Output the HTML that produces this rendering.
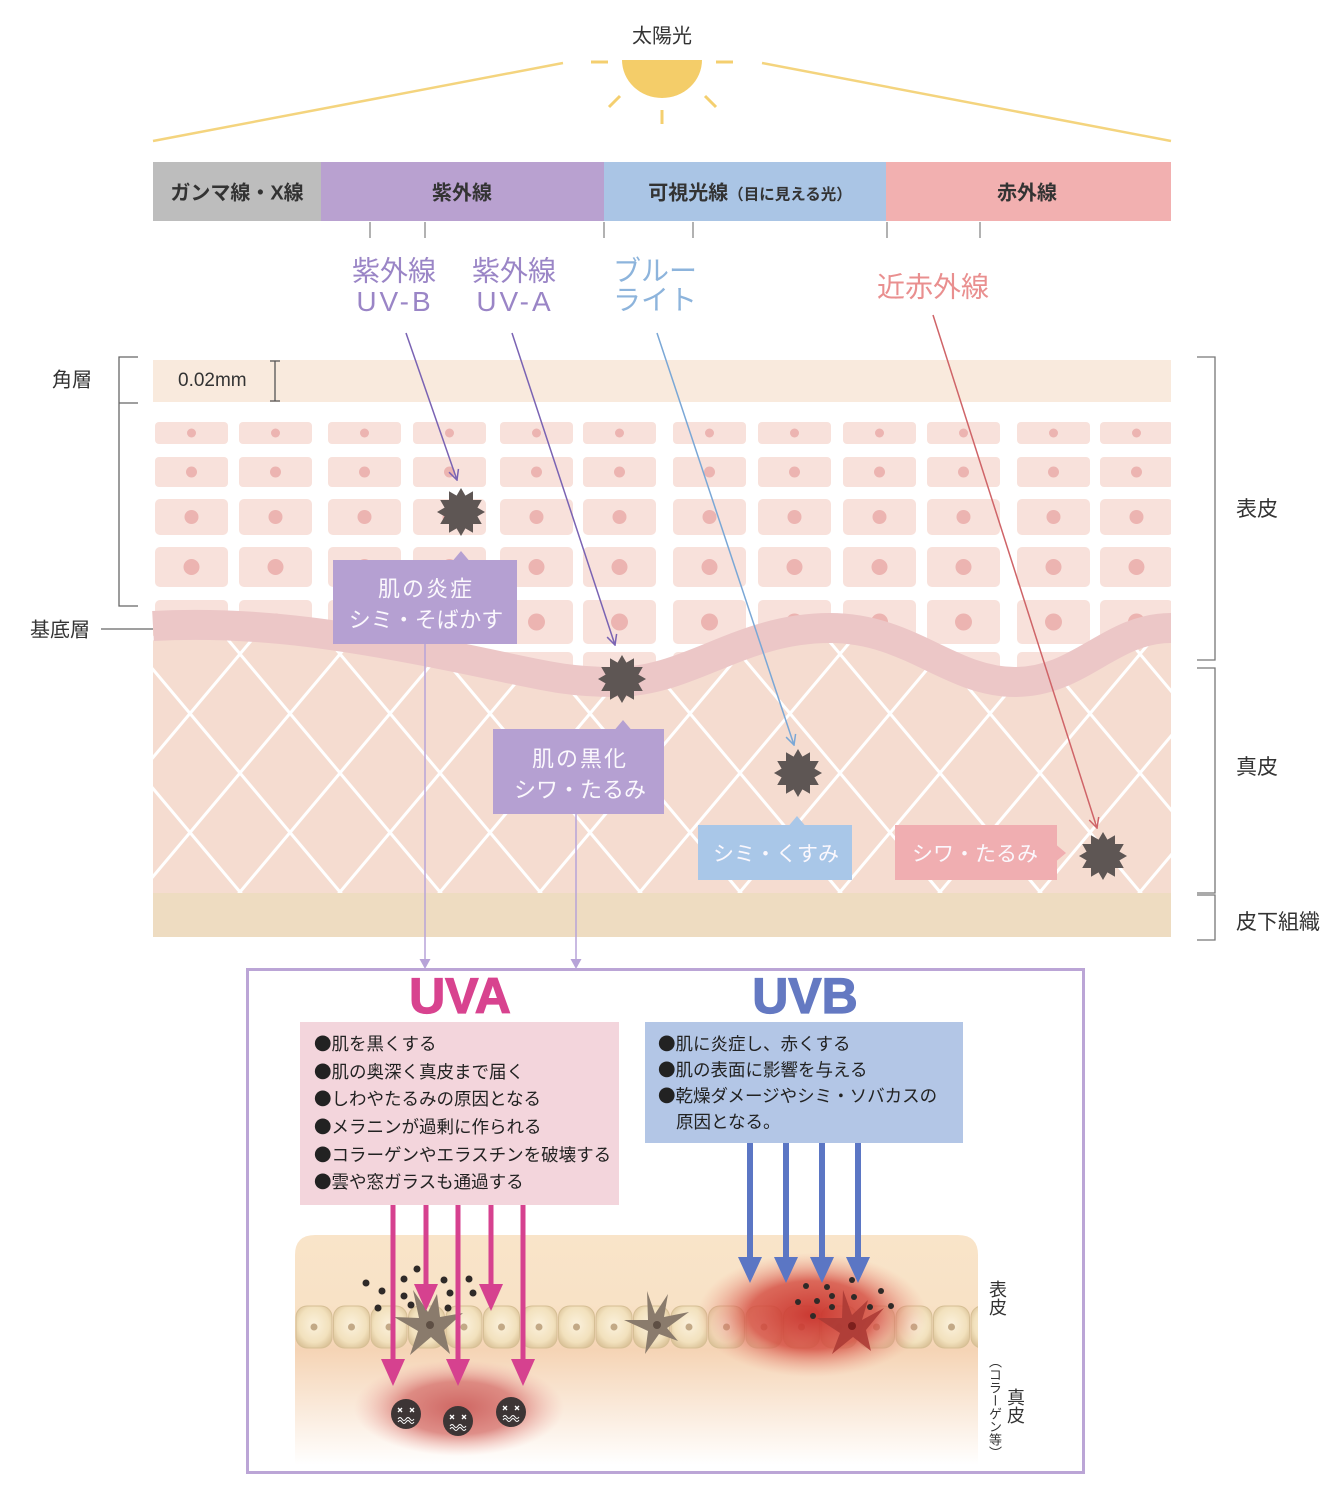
<!DOCTYPE html>
<html><head><meta charset="utf-8">
<style>
html,body{margin:0;padding:0;background:#fff;}
#wrap{position:relative;width:1338px;height:1492px;overflow:hidden;background:#fff;}
svg{position:absolute;left:0;top:0;}
text{font-family:"Liberation Sans","Noto Sans CJK JP",sans-serif;}
.cj{font-family:"Noto Sans CJK JP","Liberation Sans",sans-serif;}
.v{position:absolute;writing-mode:vertical-rl;font-family:"Liberation Sans","Noto Sans CJK JP",sans-serif;color:#333;line-height:1;}
</style></head>
<body><div id="wrap">
<svg width="1338" height="1492" viewBox="0 0 1338 1492" xmlns="http://www.w3.org/2000/svg">
<defs>
  <g id="col">
    <g fill="#f8e1db">
      <rect x="0" y="422" width="73" height="22" rx="4"/>
      <rect x="0" y="457" width="73" height="30" rx="4"/>
      <rect x="0" y="499" width="73" height="36" rx="5"/>
      <rect x="0" y="547" width="73" height="40" rx="5"/>
      <rect x="0" y="600" width="73" height="44" rx="5"/>
      <rect x="0" y="652" width="73" height="44" rx="5"/>
    </g>
    <g fill="#ecb4b1">
      <circle cx="36.5" cy="433" r="4.5"/>
      <circle cx="36.5" cy="472" r="5.5"/>
      <circle cx="36.5" cy="517" r="7"/>
      <circle cx="36.5" cy="567" r="8"/>
      <circle cx="36.5" cy="622" r="8.5"/>
      <circle cx="36.5" cy="674" r="8.5"/>
    </g>
  </g>
  <clipPath id="skinclip"><rect x="153" y="400" width="1018" height="540"/></clipPath>
  <clipPath id="dermclip"><path d="M153,626 C260,620 360,638 450,656 S560,682 615,682 C690,682 740,628 830,628 C910,628 950,682 1015,682 C1080,682 1110,628 1171,628 L1171,893 L153,893 Z"/></clipPath>
  <clipPath id="illclip"><rect x="295" y="1235" width="683" height="230"/></clipPath>
  <pattern id="lat" patternUnits="userSpaceOnUse" x="40" y="59" width="100" height="119">
    <path d="M-60,-71.4 L160,190.4 M40,-71.4 L260,190.4 M-160,-71.4 L60,190.4 M160,-71.4 L-60,190.4 M60,-71.4 L-160,190.4 M260,-71.4 L40,190.4" stroke="#ffffff" stroke-width="3" fill="none"/>
  </pattern>
  <polygon id="star" points="24,0 16.4,4.4 20.78,12 12,12 12,20.78 4.4,16.4 0,24 -4.4,16.4 -12,20.78 -12,12 -20.78,12 -16.4,4.4 -24,0 -16.4,-4.4 -20.78,-12 -12,-12 -12,-20.78 -4.4,-16.4 0,-24 4.4,-16.4 12,-20.78 12,-12 20.78,-12 16.4,-4.4" fill="#5e5654"/>
  <marker id="mp" viewBox="0 0 12 12" refX="11" refY="6" markerWidth="12" markerHeight="12" markerUnits="userSpaceOnUse" orient="auto"><path d="M1,1 L11,6 L1,11" fill="none" stroke="#7a63b3" stroke-width="1.5"/></marker>
  <marker id="mb" viewBox="0 0 12 12" refX="11" refY="6" markerWidth="12" markerHeight="12" markerUnits="userSpaceOnUse" orient="auto"><path d="M1,1 L11,6 L1,11" fill="none" stroke="#7aa7d6" stroke-width="1.5"/></marker>
  <marker id="mr" viewBox="0 0 12 12" refX="11" refY="6" markerWidth="12" markerHeight="12" markerUnits="userSpaceOnUse" orient="auto"><path d="M1,1 L11,6 L1,11" fill="none" stroke="#cf6468" stroke-width="1.5"/></marker>
  <linearGradient id="skinbg" x1="0" y1="0" x2="0" y2="1">
    <stop offset="0" stop-color="#f9e4c9"/>
    <stop offset="0.3" stop-color="#f8e2c6"/>
    <stop offset="0.5" stop-color="#f5d4b5"/>
    <stop offset="1" stop-color="#ffffff"/>
  </linearGradient>
  <radialGradient id="cellg" cx="0.5" cy="0.45" r="0.6">
    <stop offset="0" stop-color="#fbf1dc"/>
    <stop offset="0.7" stop-color="#f2e1bd"/>
    <stop offset="1" stop-color="#dcc49a"/>
  </radialGradient>
  <radialGradient id="glowA" cx="0.5" cy="0.5" r="0.5">
    <stop offset="0" stop-color="#cc5f5c" stop-opacity="0.95"/>
    <stop offset="0.55" stop-color="#d77570" stop-opacity="0.8"/>
    <stop offset="1" stop-color="#f0b0a8" stop-opacity="0"/>
  </radialGradient>
  <radialGradient id="glowB" cx="0.5" cy="0.5" r="0.5">
    <stop offset="0" stop-color="#c8302a" stop-opacity="0.95"/>
    <stop offset="0.55" stop-color="#d4493e" stop-opacity="0.8"/>
    <stop offset="1" stop-color="#ec9a88" stop-opacity="0"/>
  </radialGradient>
  <g id="cellB">
    <rect x="0" y="0" width="36" height="42" rx="11" fill="url(#cellg)" stroke="#d6bf95" stroke-width="1"/>
    <circle cx="18" cy="21" r="3.5" fill="#b99c78" opacity="0.85"/>
  </g>
  <g id="face">
    <circle cx="0" cy="0" r="15" fill="#3d3535"/>
    <path d="M-8,-6 l4,4 m0,-4 l-4,4 M4,-6 l4,4 m0,-4 l-4,4" stroke="#fff" stroke-width="1.3" fill="none"/>
    <path d="M-8,5 q2,-3 4,0 t4,0 t4,0 t4,0 M-8,8 q2,-3 4,0 t4,0 t4,0 t4,0" stroke="#fff" stroke-width="1" fill="none"/>
  </g>
</defs>

<!-- Sun -->
<text x="662" y="42.6" font-size="20" text-anchor="middle" fill="#333">太陽光</text>
<path d="M622,60 A40,38 0 0,0 702,60 Z" fill="#f4cd69"/>
<g stroke="#f4cf6f" stroke-width="3" fill="none">
  <path d="M591,62 H608 M716,62 H733 M609,107 L620,96 M705,96 L716,107 M662,110 V124"/>
</g>
<g stroke="#f4d47e" stroke-width="2.5" fill="none">
  <path d="M563,63 L153,141 M762,63 L1171,141"/>
</g>

<!-- Spectrum bar -->
<rect x="153" y="162" width="168" height="59" fill="#bdbdbd"/>
<rect x="321" y="162" width="283" height="59" fill="#b9a1d0"/>
<rect x="604" y="162" width="282" height="59" fill="#aac5e5"/>
<rect x="886" y="162" width="285" height="59" fill="#f2b0b0"/>
<g font-weight="bold" fill="#333" font-size="20" text-anchor="middle">
  <text x="237" y="199.6">ガンマ線・X線</text>
  <text x="462" y="199.6">紫外線</text>
  <text x="750" y="199.6">可視光線<tspan font-size="15.5">（目に見える光）</tspan></text>
  <text x="1027" y="199.6">赤外線</text>
</g>
<g stroke="#999" stroke-width="1.5">
  <path d="M370,222 V238 M425,222 V238 M604,222 V238 M693,222 V238 M887,222 V238 M980,222 V238"/>
</g>

<!-- Ray labels -->
<g font-size="28" fill="#9a85c6" text-anchor="middle">
  <text x="394" y="280.6">紫外線</text>
  <text x="395" y="311" letter-spacing="3">UV-B</text>
  <text x="514" y="280.6">紫外線</text>
  <text x="515" y="311" letter-spacing="3">UV-A</text>
</g>
<g font-size="28" fill="#8db4dc">
  <text x="613" y="280.6">ブルー</text>
  <text x="613" y="309.6">ライト</text>
</g>
<text x="933" y="296.6" font-size="28" fill="#e98f8f" text-anchor="middle">近赤外線</text>

<!-- Left labels -->
<g fill="#333" font-size="20">
  <text x="52" y="386.6">角層</text>
  <text x="30" y="636.6">基底層</text>
</g>
<path d="M138,357 H119 V606 H138 M119,403 H138" stroke="#666" stroke-width="1.3" fill="none"/>
<path d="M101,629 H164" stroke="#666" stroke-width="1.2"/>

<!-- Right labels -->
<g fill="#333" font-size="21">
  <text x="1236" y="516">表皮</text>
  <text x="1236" y="774">真皮</text>
  <text x="1236" y="929">皮下組織</text>
</g>
<path d="M1197,357 H1215 V660 H1197 M1197,668 H1215 V893 H1197 M1197,895 H1215 V940 H1197" stroke="#777" stroke-width="1.3" fill="none"/>

<!-- Skin cross-section -->
<rect x="153" y="360" width="1018" height="42" fill="#f9eadd"/>
<text x="178" y="386" font-size="19" fill="#333">0.02mm</text>
<path d="M275,361 V401 M270,361 H280 M270,401 H280" stroke="#555" stroke-width="1.3" fill="none"/>

<g clip-path="url(#skinclip)">
  <use href="#col" x="155"/>
  <use href="#col" x="239"/>
  <use href="#col" x="328"/>
  <use href="#col" x="413"/>
  <use href="#col" x="500"/>
  <use href="#col" x="583"/>
  <use href="#col" x="673"/>
  <use href="#col" x="758"/>
  <use href="#col" x="843"/>
  <use href="#col" x="927"/>
  <use href="#col" x="1017"/>
  <use href="#col" x="1100"/>
</g>
<path d="M153,626 C260,620 360,638 450,656 S560,682 615,682 C690,682 740,628 830,628 C910,628 950,682 1015,682 C1080,682 1110,628 1171,628 L1171,893 L153,893 Z" fill="#f5dcd0"/>
<rect x="153" y="600" width="1018" height="293" fill="url(#lat)" clip-path="url(#dermclip)"/>
<path d="M153,626 C260,620 360,638 450,656 S560,682 615,682 C690,682 740,628 830,628 C910,628 950,682 1015,682 C1080,682 1110,628 1171,628" stroke="#ecc7c7" stroke-width="30" fill="none"/>
<rect x="153" y="893" width="1018" height="44" fill="#eedcc1"/>

<!-- Stars -->
<use href="#star" x="461" y="512"/>
<use href="#star" x="622" y="679"/>
<use href="#star" x="798" y="773"/>
<use href="#star" x="1103" y="856"/>

<!-- Ray arrows -->
<line x1="406" y1="333" x2="457" y2="480" stroke="#7a63b3" stroke-width="1.5" marker-end="url(#mp)"/>
<line x1="512" y1="333" x2="615" y2="645" stroke="#7a63b3" stroke-width="1.5" marker-end="url(#mp)"/>
<line x1="657" y1="333" x2="794" y2="745" stroke="#7aa7d6" stroke-width="1.5" marker-end="url(#mb)"/>
<line x1="933" y1="315" x2="1097" y2="828" stroke="#cf6468" stroke-width="1.5" marker-end="url(#mr)"/>

<!-- Callouts -->
<rect x="333" y="560" width="184" height="84" fill="#b5a0d2"/>
<polygon points="453,560.5 461,551 469,560.5" fill="#b5a0d2"/>
<rect x="493" y="729" width="171" height="85" fill="#b5a0d2"/>
<polygon points="615,729.5 623,720 631,729.5" fill="#b5a0d2"/>
<rect x="698" y="825" width="154" height="55" fill="#a9c7e8"/>
<polygon points="789,825.5 797,816 805,825.5" fill="#a9c7e8"/>
<rect x="895" y="825" width="162" height="55" fill="#f0aeb1"/>
<polygon points="1056.5,845 1066,853 1056.5,861" fill="#f0aeb1"/>
<g fill="#fbf8fd" font-size="22" text-anchor="middle">
  <text x="426" y="596.4" letter-spacing="2">肌の炎症</text>
  <text x="426" y="627.4">シミ・そばかす</text>
  <text x="580" y="766.4" letter-spacing="2">肌の黒化</text>
  <text x="580" y="797.4">シワ・たるみ</text>
  <text x="776" y="861" font-size="21">シミ・くすみ</text>
  <text x="975" y="861" font-size="21">シワ・たるみ</text>
</g>

<!-- connectors to lower box -->
<path d="M425,644 V962 M576,814 V962" stroke="#b7a3d8" stroke-width="1.5"/>
<polygon points="419.5,959 430.5,959 425,969" fill="#b7a3d8"/>
<polygon points="570.5,959 581.5,959 576,969" fill="#b7a3d8"/>

<!-- Lower box -->
<rect x="247.5" y="969.5" width="836" height="503" fill="none" stroke="#bba5d6" stroke-width="3"/>
<text x="460" y="1013" font-size="50" font-weight="bold" fill="#d8438f" stroke="#d8438f" stroke-width="1.2" text-anchor="middle">UVA</text>
<text x="805" y="1013" font-size="50" font-weight="bold" fill="#6479c2" stroke="#6479c2" stroke-width="1.2" text-anchor="middle">UVB</text>

<rect x="300" y="1022" width="319" height="183" fill="#f3d5dc"/>
<g font-size="17.5" fill="#222" class="cj">
  <text class="cj" x="314" y="1050">●肌を黒くする</text>
  <text class="cj" x="314" y="1078">●肌の奥深く真皮まで届く</text>
  <text class="cj" x="314" y="1105">●しわやたるみの原因となる</text>
  <text class="cj" x="314" y="1133">●メラニンが過剰に作られる</text>
  <text class="cj" x="314" y="1161">●コラーゲンやエラスチンを破壊する</text>
  <text class="cj" x="314" y="1188">●雲や窓ガラスも通過する</text>
</g>
<rect x="645" y="1022" width="318" height="121" fill="#b3c6e6"/>
<g font-size="17.5" fill="#222" class="cj">
  <text class="cj" x="658" y="1050">●肌に炎症し、赤くする</text>
  <text class="cj" x="658" y="1076">●肌の表面に影響を与える</text>
  <text class="cj" x="658" y="1102">●乾燥ダメージやシミ・ソバカスの</text>
  <text class="cj" x="676" y="1128">原因となる。</text>
</g>

<!-- skin illustration -->
<path d="M295,1465 V1255 Q295,1235 315,1235 H958 Q978,1235 978,1255 V1465 Z" fill="url(#skinbg)"/>
<g clip-path="url(#illclip)">
  <use href="#cellB" x="296" y="1306"/>
  <use href="#cellB" x="333.5" y="1306"/>
  <use href="#cellB" x="371" y="1306"/>
  <use href="#cellB" x="408.5" y="1306"/>
  <use href="#cellB" x="446" y="1306"/>
  <use href="#cellB" x="483.5" y="1306"/>
  <use href="#cellB" x="521" y="1306"/>
  <use href="#cellB" x="558.5" y="1306"/>
  <use href="#cellB" x="596" y="1306"/>
  <use href="#cellB" x="633.5" y="1306"/>
  <use href="#cellB" x="671" y="1306"/>
  <use href="#cellB" x="708.5" y="1306"/>
  <use href="#cellB" x="746" y="1306"/>
  <use href="#cellB" x="783.5" y="1306"/>
  <use href="#cellB" x="821" y="1306"/>
  <use href="#cellB" x="858.5" y="1306"/>
  <use href="#cellB" x="896" y="1306"/>
  <use href="#cellB" x="933.5" y="1306"/>
  <use href="#cellB" x="971" y="1306"/>
</g>
<!-- glows -->
<ellipse cx="459" cy="1408" rx="105" ry="48" fill="url(#glowA)"/>
<ellipse cx="812" cy="1315" rx="115" ry="62" fill="url(#glowB)"/>

<!-- melanocytes -->
<path d="M437,1294 L440,1317 L463,1313 L444,1330 L450,1354 L431,1337 L410,1355 L418,1331 L394,1317 L419,1318 L413,1290 L428,1312 Z" fill="#8a7b6c"/>
<circle cx="430" cy="1325" r="4" fill="#5e4f44"/>
<path d="M647,1291 L655,1314 L668,1294 L664,1317 L689,1312 L667,1328 L678,1341 L659,1334 L645,1354 L648,1331 L624,1320 L648,1320 Z" fill="#8a7b6c"/>
<circle cx="657" cy="1325" r="4" fill="#5e4f44"/>
<path d="M843,1290 L852,1315 L868,1300 L862,1320 L884,1308 L866,1330 L871,1351 L853,1337 L832,1354 L840,1333 L817,1318 L842,1318 Z" fill="#ac3b35" opacity="0.9"/>
<circle cx="852" cy="1326" r="4" fill="#7d1f1c"/>

<!-- melanin dots -->
<g fill="#2f2a28">
  <circle cx="366" cy="1283" r="3.5"/><circle cx="382" cy="1291" r="3.5"/><circle cx="378" cy="1308" r="3.5"/>
  <circle cx="404" cy="1279" r="3.5"/><circle cx="417" cy="1269" r="3.5"/><circle cx="404" cy="1296" r="3.5"/>
  <circle cx="411" cy="1305" r="3.5"/><circle cx="444" cy="1280" r="3.5"/><circle cx="450" cy="1293" r="3.5"/>
  <circle cx="448" cy="1308" r="3.5"/><circle cx="469" cy="1279" r="3.5"/><circle cx="473" cy="1293" r="3.5"/>
  <circle cx="806" cy="1286" r="3"/><circle cx="827" cy="1287" r="3"/><circle cx="832" cy="1296" r="3"/>
  <circle cx="852" cy="1280" r="3"/><circle cx="881" cy="1291" r="3"/><circle cx="891" cy="1306" r="3"/>
  <circle cx="870" cy="1307" r="3"/><circle cx="854" cy="1297" r="3"/><circle cx="832" cy="1307" r="3"/>
  <circle cx="817" cy="1301" r="3"/><circle cx="798" cy="1302" r="3"/><circle cx="813" cy="1316" r="3"/>
</g>

<!-- faces -->
<use href="#face" x="406" y="1414"/>
<use href="#face" x="458" y="1421"/>
<use href="#face" x="511" y="1412"/>

<!-- UVA arrows -->
<g fill="#d6418f" stroke="none">
  <rect x="390.5" y="1205" width="5" height="156"/><polygon points="381,1359 405,1359 393,1386"/>
  <rect x="423.5" y="1205" width="5" height="80"/><polygon points="414,1284 438,1284 426,1311"/>
  <rect x="455.5" y="1205" width="5" height="156"/><polygon points="446,1359 470,1359 458,1386"/>
  <rect x="488.5" y="1205" width="5" height="80"/><polygon points="479,1284 503,1284 491,1311"/>
  <rect x="520.5" y="1205" width="5" height="156"/><polygon points="511,1359 535,1359 523,1386"/>
</g>
<!-- UVB arrows -->
<g fill="#5b76c4">
  <rect x="747" y="1143" width="6" height="116"/><polygon points="738,1257 762,1257 750,1283"/>
  <rect x="783" y="1143" width="6" height="116"/><polygon points="774,1257 798,1257 786,1283"/>
  <rect x="819" y="1143" width="6" height="116"/><polygon points="810,1257 834,1257 822,1283"/>
  <rect x="855" y="1143" width="6" height="116"/><polygon points="846,1257 870,1257 858,1283"/>
</g>
</svg>

<div class="v" style="left:988px;top:1280px;font-size:18px;">表皮</div>
<div class="v" style="left:1006px;top:1388px;font-size:18px;">真皮</div>
<div class="v" style="left:988px;top:1355px;font-size:13px;">（コラーゲン等）</div>
</div></body></html>
